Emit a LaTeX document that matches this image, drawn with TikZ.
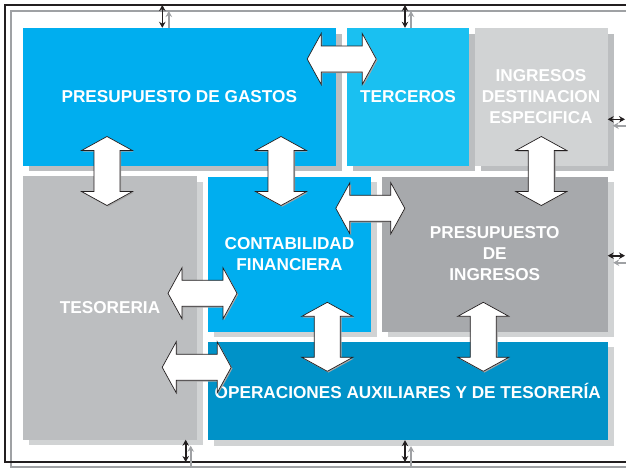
\documentclass[tikz,border=0pt]{standalone}
\usepackage{fontspec}
\setmainfont{Liberation Sans}
\usetikzlibrary{shadows,arrows.meta}
\definecolor{cyanA}{HTML}{00AEEF}
\definecolor{cyanB}{HTML}{1AC0F1}
\definecolor{blueOp}{HTML}{0092C8}
\definecolor{greyL}{HTML}{D1D3D4}
\definecolor{greyM}{HTML}{BCBEC0}
\definecolor{greyD}{HTML}{A7A9AC}
\definecolor{framegrey}{HTML}{9FA1A4}
\definecolor{inkblack}{HTML}{231F20}
\tikzset{
  block/.style={rectangle, inner sep=0pt, text=white, align=center,
    font=\bfseries\fontsize{17.2}{21}\selectfont},
  shadowed/.style={drop shadow={shadow xshift=6pt, shadow yshift=-5.5pt, fill=#1, opacity=1}},
  framek/.style={draw=inkblack, line width=1.8pt},
  frameg/.style={draw=framegrey, line width=1.8pt},
  karr/.style={draw=inkblack, line width=1.6pt, {Stealth[length=6pt,width=6.5pt]}-{Stealth[length=6pt,width=6.5pt]}},
  garr/.style={draw=framegrey, line width=1.6pt, -{Stealth[length=6pt,width=6.5pt]}},
  bigarr/.style={fill=white, draw=inkblack, line width=0.7pt, line join=miter},
  bigarrshadow/.style={fill=black!35},
}
\newcommand\bigarrow[3]{%
  \begin{scope}[shift={(#1+1.2,#2+1.2)}, rotate=#3]
    \fill[bigarrshadow] (-34.5,0) -- (-20.5,-25.5) -- (-20.5,-13) -- (20.5,-13) -- (20.5,-25.5) -- (34.5,0)
      -- (20.5,25.5) -- (20.5,13) -- (-20.5,13) -- (-20.5,25.5) -- cycle;
  \end{scope}
  \begin{scope}[shift={(#1,#2)}, rotate=#3]
    \filldraw[bigarr] (-34.5,0) -- (-20.5,-25.5) -- (-20.5,-13) -- (20.5,-13) -- (20.5,-25.5) -- (34.5,0)
      -- (20.5,25.5) -- (20.5,13) -- (-20.5,13) -- (-20.5,25.5) -- cycle;
  \end{scope}}
\begin{document}
\begin{tikzpicture}[x=1pt,y=-1pt]
\path[use as bounding box, clip] (0,0) rectangle (626,469);
\fill[white] (0,0) rectangle (626,469);
% frames
\draw[frameg] (640,11) -- (11,11) -- (11,467) -- (640,467);
\draw[framek] (640,5) -- (5,5) -- (5,462) -- (640,462);
% blocks
\node[block, fill=cyanA, shadowed=greyM, minimum width=312.5pt, minimum height=137.5pt] (gastos) at (179.25,96.75) {PRESUPUESTO DE GASTOS};
\node[block, fill=cyanB, shadowed=greyM, minimum width=122pt, minimum height=137.5pt] (terceros) at (408,96.75) {TERCEROS};
\node[block, fill=greyL, shadowed=greyM, minimum width=133pt, minimum height=137.5pt] (ingdest) at (541,96.75) {INGRESOS\\DESTINACION\\ESPECIFICA};
\node[block, fill=greyM, shadowed=greyL, minimum width=174pt, minimum height=263.5pt] (tesoreria) at (110,307.75) {TESORERIA};
\node[block, fill=cyanA, shadowed=greyL, minimum width=163pt, minimum height=155pt] (contab) at (289.5,254) {CONTABILIDAD\\FINANCIERA};
\node[block, fill=greyD, shadowed=greyL, minimum width=225.5pt, minimum height=155pt] (presing) at (494.75,254) {PRESUPUESTO\\DE\\INGRESOS};
\node[block, fill=blueOp, shadowed=greyL, minimum width=399.5pt, minimum height=98.5pt] (operac) at (407.75,390.75) {OPERACIONES AUXILIARES Y DE TESORERÍA};
% big double arrows
\bigarrow{341.7}{59}{0}
\bigarrow{107}{171}{90}
\bigarrow{281}{171}{90}
\bigarrow{541.3}{171}{90}
\bigarrow{370.3}{208.3}{0}
\bigarrow{202.5}{293.3}{0}
\bigarrow{196.7}{367.3}{0}
\bigarrow{327.3}{336.8}{90}
\bigarrow{483.3}{336.8}{90}
% small connectors to the frame
\coordinate (kt1) at (162.3,5);
\coordinate (gt1) at (168.8,11);
\coordinate (kt2) at (405,5);
\coordinate (gt2) at (411,11);
\coordinate (kb1) at (185.7,462);
\coordinate (gb1) at (190.7,467);
\coordinate (kb2) at (405,462);
\coordinate (gb2) at (411,467);
\coordinate (kr1) at (625,119.3);
\coordinate (gr1) at (626,125.7);
\coordinate (kr2) at (625,255.7);
\coordinate (gr2) at (626,262.7);
\draw[karr] (kt1) -- (kt1 |- gastos.north);
\draw[garr] (gt1 |- gastos.north) -- (gt1);
\draw[karr] (kt2) -- (kt2 |- terceros.north);
\draw[garr] (gt2 |- terceros.north) -- (gt2);
\draw[karr] (kb1) -- (kb1 |- tesoreria.south);
\draw[garr] (gb1) -- ([yshift=-6pt]gb1 |- tesoreria.south);
\draw[karr] (kb2) -- (kb2 |- operac.south);
\draw[garr] (gb2) -- ([yshift=-6pt]gb2 |- operac.south);
\draw[karr] (kr1) -- (kr1 -| ingdest.east);
\draw[garr] (gr1) -- ([xshift=5pt]gr1 -| ingdest.east);
\draw[karr] (kr2) -- (kr2 -| presing.east);
\draw[garr] (gr2) -- ([xshift=5.5pt]gr2 -| presing.east);
\end{tikzpicture}
\end{document}
